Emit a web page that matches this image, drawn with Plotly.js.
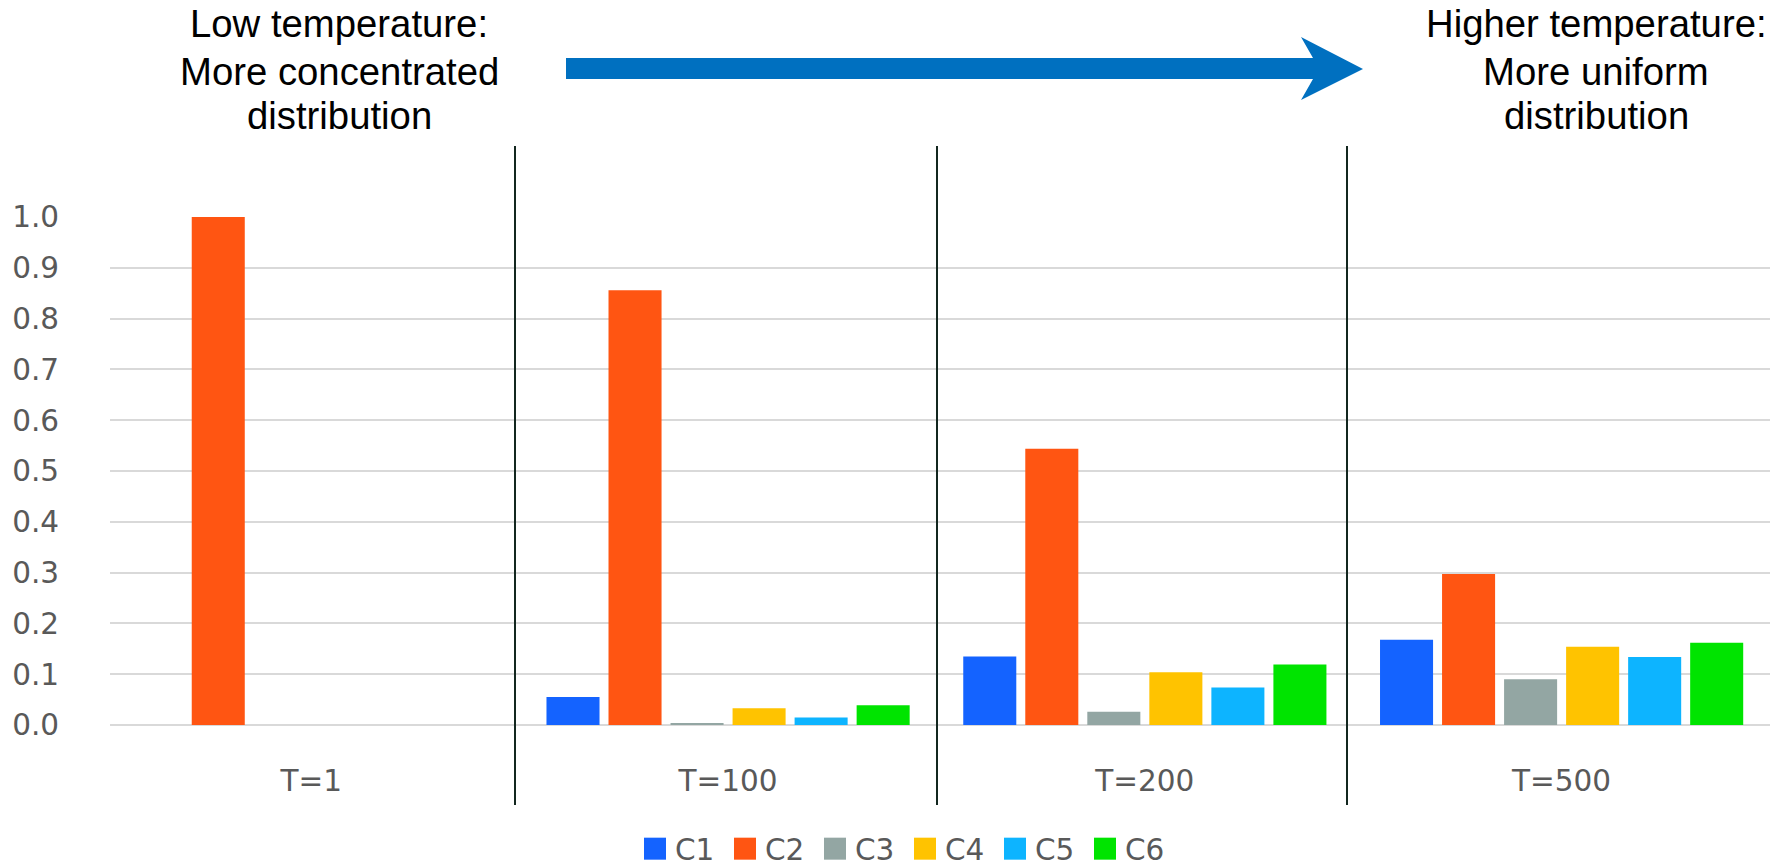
<!DOCTYPE html>
<html>
<head>
<meta charset="utf-8">
<script src="https://cdn.plot.ly/plotly-3.0.1.min.js"></script>
<style>
html,body{margin:0;padding:0;background:#ffffff;}
#chart{width:1773px;height:867px;}
</style>
</head>
<body>
<div id="chart"></div>
<script>
// ---- data ----
const categories = ["T=1", "T=100", "T=200", "T=500"];
const seriesNames = ["C1", "C2", "C3", "C4", "C5", "C6"];
const c1 = [0, 0.055, 0.135, 0.168];
const c2 = [1.0, 0.856, 0.544, 0.297];
const c3 = [0, 0.003, 0.026, 0.090];
const c4 = [0, 0.033, 0.104, 0.154];
const c5 = [0, 0.015, 0.074, 0.134];
const c6 = [0, 0.039, 0.119, 0.162];
const yTickVals = [0, 0.1, 0.2, 0.3, 0.4, 0.5, 0.6, 0.7, 0.8, 0.9, 1.0];
const yTickText = ["0.0", "0.1", "0.2", "0.3", "0.4", "0.5", "0.6", "0.7", "0.8", "0.9", "1.0"];
const leftNote = ["Low temperature:", "More concentrated", "distribution"];
const rightNote = ["Higher temperature:", "More uniform", "distribution"];

// ---- styles ----
const seriesColors = ["#1463ff", "#ff5512", "#93a6a3", "#ffc300", "#0db4ff", "#00e400"];
const W = 1773, H = 867;
const M = {l: 110, r: 3, t: 217, b: 142, autoexpand: false};
const PW = W - M.l - M.r, PH = H - M.t - M.b;
const px = x => (x - M.l) / PW;
const py = y => (H - M.b - y) / PH;

const seriesValues = [c1, c2, c3, c4, c5, c6];
const traces = seriesNames.map((name, i) => ({
  type: "bar",
  name: name,
  x: categories,
  y: seriesValues[i],
  marker: {color: seriesColors[i]},
  hoverinfo: "name+y"
}));

// separator lines (decoration)
const sepX = [515, 937, 1347];
const shapes = sepX.map(x => ({
  type: "line", xref: "paper", yref: "paper",
  x0: px(x), x1: px(x), y0: py(805), y1: py(146),
  line: {color: "#13271f", width: 2}
}));
// arrow (decoration)
const arrowPts = [[566,58],[1313,58],[1301,37],[1363,69],[1301,100],[1313,79],[566,79]];
shapes.push({
  type: "path", xref: "paper", yref: "paper",
  path: "M" + arrowPts.map(p => px(p[0]).toFixed(5) + "," + py(p[1]).toFixed(5)).join(" L") + " Z",
  fillcolor: "#0070c0", line: {width: 0}
});

const noteFont = {family: "Liberation Sans, Arial, sans-serif", size: 38.3, color: "#000000"};
const lineY = [23, 71, 116];
const annotations = [];
leftNote.forEach((t, i) => annotations.push({
  text: t, xref: "paper", yref: "paper", x: px(339), y: py(lineY[i]),
  xanchor: "center", yanchor: "middle", showarrow: false, font: noteFont
}));
rightNote.forEach((t, i) => annotations.push({
  text: t, xref: "paper", yref: "paper", x: px(1596), y: py(lineY[i]),
  xanchor: "center", yanchor: "middle", showarrow: false, font: noteFont
}));

const tickFont = {family: "DejaVu Sans, sans-serif", size: 29.5, color: "#595959"};

const layout = {
  width: W, height: H,
  margin: M,
  paper_bgcolor: "#ffffff",
  plot_bgcolor: "#ffffff",
  barmode: "group",
  bargap: 0.107,
  bargroupgap: 0.145,
  showlegend: true,
  legend: {
    orientation: "h", xref: "paper", yref: "paper",
    x: px(905), xanchor: "center", y: py(849), yanchor: "middle",
    font: {family: "DejaVu Sans, sans-serif", size: 29.5, color: "#595959"},
    entrywidth: 45, entrywidthmode: "pixels",
    itemclick: false, itemdoubleclick: false, traceorder: "normal"
  },
  xaxis: {
    type: "category",
    range: [-0.483, 3.5],
    tickfont: tickFont,
    ticks: "outside", ticklen: 30, tickcolor: "rgba(0,0,0,0)",
    showgrid: false, showline: false, zeroline: false, fixedrange: true
  },
  yaxis: {
    range: [0, 1.0],
    tickmode: "array", tickvals: yTickVals, ticktext: yTickText,
    tickfont: tickFont,
    ticks: "outside", ticklen: 44, tickcolor: "rgba(0,0,0,0)",
    showgrid: true, gridcolor: "#d9d9d9", gridwidth: 1.5,
    zeroline: true, zerolinecolor: "#d9d9d9", zerolinewidth: 1.5,
    showline: false, fixedrange: true
  },
  shapes: shapes,
  annotations: annotations
};

const gd = document.getElementById("chart");
function enlargeLegendSwatches() {
  gd.querySelectorAll("g.legendpoints path").forEach(p => {
    p.setAttribute("d", "M11,11H-11V-11H11Z");
  });
}
Plotly.newPlot(gd, traces, layout, {displayModeBar: false});
enlargeLegendSwatches();
gd.on("plotly_afterplot", enlargeLegendSwatches);
setTimeout(enlargeLegendSwatches, 0);
setTimeout(enlargeLegendSwatches, 100);
</script>
</body>
</html>
